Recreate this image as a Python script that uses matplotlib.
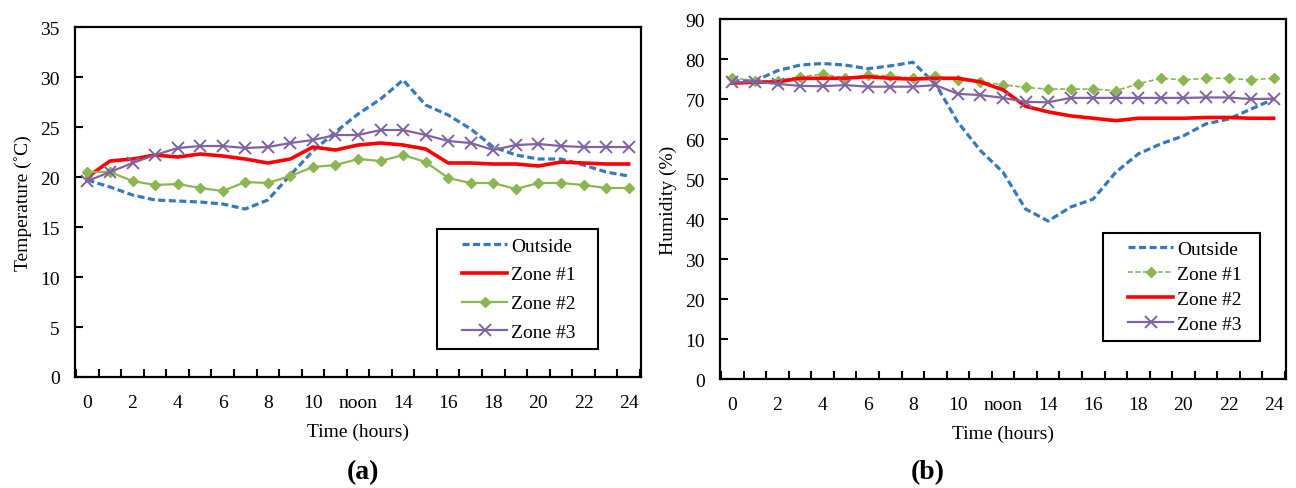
import numpy as np
import matplotlib
matplotlib.use('Agg')
import matplotlib.pyplot as plt
from matplotlib.lines import Line2D
from matplotlib.legend_handler import HandlerLine2D

plt.rcParams['font.family'] = ['Liberation Serif', 'DejaVu Serif']

hours = np.arange(25)
label_hours = [0, 2, 4, 6, 8, 10, 12, 14, 16, 18, 20, 22, 24]
hour_labels = ['0', '2', '4', '6', '8', '10', 'noon', '14', '16', '18', '20', '22', '24']

# (a) temperature, deg C
temp_outside = [19.7, 19.0, 18.2, 17.7, 17.6, 17.5, 17.3, 16.8, 17.7, 20.2, 22.6, 24.5, 26.3,
                27.8, 29.7, 27.2, 26.2, 24.8, 23.0, 22.2, 21.8, 21.8, 21.2, 20.5, 20.1]
temp_zone1 = [20.0, 21.6, 21.8, 22.2, 22.0, 22.3, 22.1, 21.8, 21.4, 21.8, 23.0, 22.7, 23.2,
              23.4, 23.2, 22.8, 21.4, 21.4, 21.3, 21.3, 21.1, 21.5, 21.4, 21.3, 21.3]
temp_zone2 = [20.5, 20.5, 19.6, 19.2, 19.3, 18.9, 18.6, 19.5, 19.4, 20.1, 21.0, 21.2, 21.8,
              21.6, 22.2, 21.5, 19.9, 19.4, 19.4, 18.8, 19.4, 19.4, 19.2, 18.9, 18.9]
temp_zone3 = [19.6, 20.5, 21.4, 22.2, 22.9, 23.1, 23.1, 22.9, 23.0, 23.4, 23.7, 24.2, 24.2,
              24.7, 24.7, 24.2, 23.6, 23.4, 22.7, 23.2, 23.3, 23.1, 23.0, 23.0, 23.0]

# (b) humidity, %
hum_outside = [74.6, 74.6, 77.1, 78.5, 78.9, 78.5, 77.6, 78.3, 79.2, 73.8, 64.2, 57.1, 51.7,
               42.5, 39.5, 43.0, 45.0, 51.7, 56.3, 58.8, 60.8, 63.8, 65.0, 67.5, 70.0]
hum_zone1 = [75.3, 74.6, 74.6, 75.6, 76.2, 75.2, 76.0, 75.8, 75.2, 75.8, 74.8, 74.3, 73.6,
             72.9, 72.5, 72.5, 72.5, 72.1, 73.8, 75.2, 74.8, 75.2, 75.2, 74.8, 75.2]
hum_zone2 = [74.0, 74.2, 74.3, 75.2, 75.2, 75.2, 75.6, 75.2, 75.0, 75.2, 75.2, 74.3, 72.3,
             68.2, 66.8, 65.8, 65.2, 64.6, 65.2, 65.2, 65.2, 65.4, 65.4, 65.2, 65.2]
hum_zone3 = [74.2, 74.3, 73.8, 73.3, 73.2, 73.5, 73.1, 73.1, 73.1, 73.5, 71.3, 71.0, 70.3,
             69.3, 69.2, 70.3, 70.3, 70.3, 70.3, 70.3, 70.3, 70.4, 70.4, 70.0, 70.1]

blue = '#3679BD'
red = '#FF0000'
green = '#8CB652'
purple = '#8064A2'


class PadLine(HandlerLine2D):
    # leaves some blank space in front of the legend line, like the Excel legend
    def create_artists(self, legend, orig_handle, xdescent, ydescent, width, height,
                       fontsize, trans):
        pad = 0.9 * fontsize
        return super().create_artists(legend, orig_handle, xdescent - pad, ydescent,
                                      width - pad, height, fontsize, trans)


def style_axes(ax, ymax, ystep, ylabel):
    ax.set_xlim(-0.55, 24.55)
    ax.set_ylim(0, ymax)
    # tick marks sit between the hours, labels on every second hour
    ax.set_xticks(np.arange(-0.5, 25, 1))
    ax.set_xticklabels([])
    ax.set_xticks(label_hours, minor=True)
    ax.set_xticklabels(hour_labels, minor=True)
    ax.tick_params(axis='x', which='major', direction='in', length=6, width=1.5)
    ax.tick_params(axis='x', which='minor', length=0, pad=12, labelsize=14)
    ax.set_yticks(np.arange(0, ymax + 1, ystep))
    ax.tick_params(axis='y', direction='in', length=6, width=1.5, pad=11, labelsize=14)
    for s in ax.spines.values():
        s.set_linewidth(1.6)
    ax.set_xlabel('Time (hours)', fontsize=14, labelpad=9)
    ax.set_ylabel(ylabel, fontsize=14, labelpad=6)


def add_legend(ax, x0, y0, w, spacing):
    leg = ax.legend(loc='lower left', bbox_to_anchor=(x0, y0, w, 0.3), mode='expand',
                    borderaxespad=0, fontsize=14, handlelength=3.2, handletextpad=0.2,
                    labelspacing=spacing, borderpad=0.4, fancybox=False, framealpha=1,
                    edgecolor='black', handler_map={Line2D: PadLine()})
    leg.get_frame().set_linewidth(1.5)


fig = plt.figure(figsize=(12.96, 4.89), dpi=100)
ax1 = fig.add_axes([0.0579, 0.227, 0.4367, 0.7157])
ax2 = fig.add_axes([0.5556, 0.2229, 0.4367, 0.736])

ax1.plot(hours, temp_outside, color=blue, lw=2.3, dashes=(2.2, 1.1), label='Outside')
ax1.plot(hours, temp_zone1, color=red, lw=2.6, label='Zone #1')
ax1.plot(hours, temp_zone2, color=green, lw=1.6, marker='D', ms=5.5, label='Zone #2')
ax1.plot(hours, temp_zone3, color=purple, lw=1.6, marker='x', ms=8, mew=1.4, label='Zone #3')
style_axes(ax1, 35, 5, 'Temperature (˚C)')
add_legend(ax1, 0.6396, 0.08, 0.2845, 0.58)

ax2.plot(hours, hum_outside, color=blue, lw=2.3, dashes=(2.2, 1.1), label='Outside')
ax2.plot(hours, hum_zone1, color=green, lw=1.2, dashes=(3, 1.5), marker='D', ms=5.5,
         label='Zone #1')
ax2.plot(hours, hum_zone2, color=red, lw=2.6, label='Zone #2')
ax2.plot(hours, hum_zone3, color=purple, lw=1.6, marker='x', ms=8, mew=1.4, label='Zone #3')
style_axes(ax2, 90, 10, 'Humidity (%)')
add_legend(ax2, 0.6767, 0.1056, 0.2774, 0.38)

fig.text(0.28, 0.02, '(a)', ha='center', fontsize=20, fontweight='bold')
fig.text(0.716, 0.02, '(b)', ha='center', fontsize=20, fontweight='bold')

plt.savefig('out.png', dpi=100)
